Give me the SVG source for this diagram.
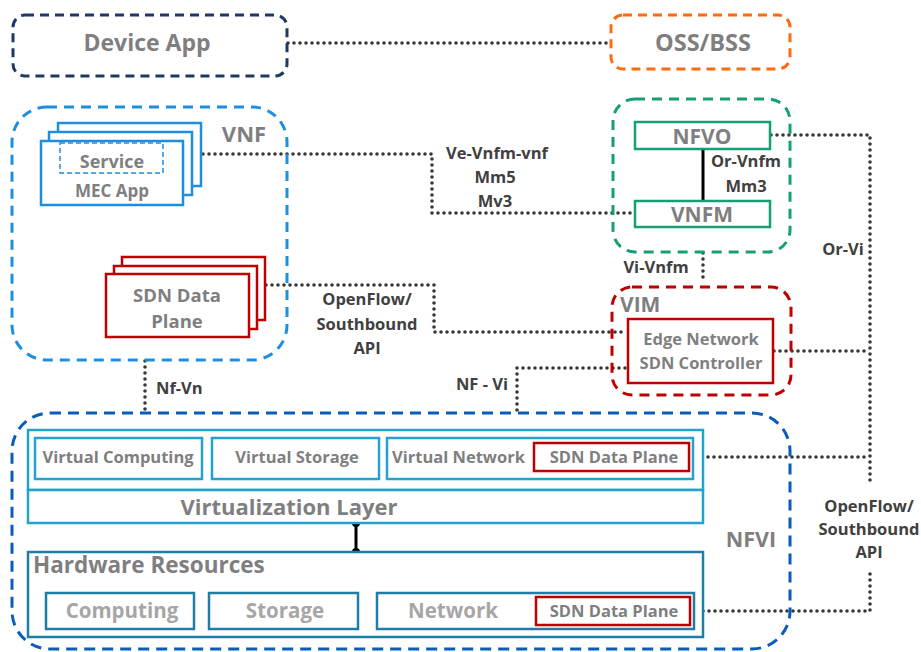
<svg xmlns="http://www.w3.org/2000/svg" width="921" height="652" viewBox="0 0 921 652">
<style>
text{font-family:"Open Sans","Liberation Sans",sans-serif;font-weight:bold}
.t{fill:#7f7f7f}
.lt{fill:#a6a6a6}
.lbl{fill:#404040;font-size:16.5px}
.m{text-anchor:middle}
.dot{fill:none;stroke:#383838;stroke-width:3.6;stroke-dasharray:0 6;stroke-linecap:round}
.mec{fill:#fff;stroke:#1e8fe0;stroke-width:2.5}
.sdn{fill:#fff;stroke:#c00000;stroke-width:2.5}
.virt{fill:#fff;stroke:#23a3cc;stroke-width:2.5}
.hw{fill:#fff;stroke:#1f7ea6;stroke-width:2.5}
.grn{fill:#fff;stroke:#14a077;stroke-width:2.5}
</style>
<rect width="921" height="652" fill="#fff"/>

<g id="connectors">
  <path class="dot" d="M288 43 H610"/>
  <path class="dot" d="M203 154 H432 V213 H634"/>
  <path class="dot" d="M266 285 H434 V332 H627"/>
  <path class="dot" d="M517 410 V368 H627"/>
  <path class="dot" d="M145 361 V411"/>
  <path class="dot" d="M703 253 V283"/>
  <path class="dot" d="M771 135 H870 V485"/>
  <path class="dot" d="M774 351 H870"/>
  <path class="dot" d="M690 457 H870"/>
  <path class="dot" d="M691 611 H870 V573"/>
  <line x1="703" y1="150" x2="703" y2="200" stroke="#000" stroke-width="3"/>
  <line x1="356" y1="523" x2="356" y2="552" stroke="#000" stroke-width="3"/>
  <circle cx="356" cy="523" r="4" fill="#000"/>
  <circle cx="356" cy="552" r="4" fill="#000"/>
</g>

<g id="device-app">
  <rect x="13" y="15" width="274" height="61" rx="12" fill="none" stroke="#1f3864" stroke-width="3" stroke-dasharray="9 6"/>
  <text class="t m" x="147" y="51" font-size="23">Device App</text>
</g>

<g id="oss-bss">
  <rect x="611" y="15" width="179" height="54" rx="12" fill="none" stroke="#ff6a13" stroke-width="3" stroke-dasharray="9 6"/>
  <text class="t m" x="703" y="51" font-size="23.5">OSS/BSS</text>
</g>

<g id="vnf">
  <rect x="12" y="107" width="275" height="253" rx="35" fill="none" stroke="#1e8fe0" stroke-width="3" stroke-dasharray="10 7"/>
  <text class="t m" x="244" y="142" font-size="22">VNF</text>
</g>

<g id="mec-app">
  <rect class="mec" x="58" y="123" width="143" height="63"/>
  <rect class="mec" x="49" y="132" width="143" height="63"/>
  <rect class="mec" x="41" y="141" width="142" height="64"/>
  <rect x="60" y="143" width="103" height="30" fill="none" stroke="#1e8fe0" stroke-width="1.5" stroke-dasharray="5 3"/>
  <text class="t m" x="112" y="168" font-size="18">Service</text>
  <text class="t m" x="112" y="197" font-size="17">MEC App</text>
</g>

<g id="sdn-data-plane-vnf">
  <rect class="sdn" x="122" y="257" width="143" height="63"/>
  <rect class="sdn" x="114" y="266" width="143" height="63"/>
  <rect class="sdn" x="106" y="274" width="143" height="63"/>
  <text class="t m" x="177" y="302" font-size="18.5">SDN Data</text>
  <text class="t m" x="177" y="328" font-size="18.5">Plane</text>
</g>

<g id="mano">
  <rect x="613" y="99" width="177" height="153" rx="22" fill="none" stroke="#14a077" stroke-width="3" stroke-dasharray="10 7"/>
</g>
<g id="nfvo">
  <rect class="grn" x="635" y="122" width="135" height="27"/>
  <text class="t m" x="702" y="144" font-size="21">NFVO</text>
</g>
<g id="vnfm">
  <rect class="grn" x="635" y="201" width="135" height="26"/>
  <text class="t m" x="702" y="222" font-size="21">VNFM</text>
</g>

<g id="vim">
  <rect x="612" y="287" width="179" height="108" rx="20" fill="none" stroke="#c00000" stroke-width="3" stroke-dasharray="10 7"/>
  <text class="t" x="620" y="312" font-size="21">VIM</text>
</g>
<g id="sdn-controller">
  <rect class="sdn" x="628" y="319" width="145" height="64"/>
  <text class="t m" x="701" y="345" font-size="16.5">Edge Network</text>
  <text class="t m" x="701" y="369" font-size="16.5">SDN Controller</text>
</g>

<g id="nfvi">
  <rect x="12" y="413" width="778" height="236" rx="38" fill="none" stroke="#0a5cb8" stroke-width="3" stroke-dasharray="11 7"/>
  <text class="t m" x="751" y="547" font-size="21.5">NFVI</text>
</g>

<g id="virtual-resources">
  <rect class="virt" x="28" y="430" width="675" height="60"/>
  <rect class="virt" x="35" y="438" width="167" height="41"/>
  <text class="t m" x="118" y="463" font-size="16.5">Virtual Computing</text>
  <rect class="virt" x="212" y="438" width="167" height="41"/>
  <text class="t m" x="297" y="463" font-size="16.5">Virtual Storage</text>
  <rect class="virt" x="387" y="438" width="306" height="41"/>
  <text class="t" x="392" y="463" font-size="16.5">Virtual Network</text>
  <rect class="sdn" x="534" y="443" width="155" height="28"/>
  <text class="t m" x="614" y="463" font-size="16.5">SDN Data Plane</text>
</g>

<g id="virtualization-layer">
  <rect class="virt" x="28" y="490" width="675" height="33"/>
  <text class="t m" x="289" y="515" font-size="22">Virtualization Layer</text>
</g>

<g id="hardware-resources">
  <rect class="hw" x="28" y="552" width="675" height="85"/>
  <text class="t" x="33" y="573" font-size="22.5">Hardware Resources</text>
  <rect class="hw" x="46" y="593" width="148" height="36"/>
  <text class="lt m" x="122" y="618" font-size="20.5">Computing</text>
  <rect class="hw" x="209" y="593" width="149" height="36"/>
  <text class="lt m" x="285" y="618" font-size="20.5">Storage</text>
  <rect class="hw" x="377" y="593" width="317" height="36"/>
  <text class="lt" x="408" y="618" font-size="20.5">Network</text>
  <rect class="sdn" x="536" y="597" width="154" height="28"/>
  <text class="t m" x="614" y="617" font-size="16.5">SDN Data Plane</text>
</g>

<g id="labels">
  <text class="lbl m" x="497" y="159">Ve-Vnfm-vnf</text>
  <text class="lbl m" x="495" y="183">Mm5</text>
  <text class="lbl m" x="495" y="207">Mv3</text>
  <text class="lbl m" x="367" y="305">OpenFlow/</text>
  <text class="lbl m" x="367" y="330">Southbound</text>
  <text class="lbl m" x="367" y="354">API</text>
  <text class="lbl m" x="482" y="390">NF - Vi</text>
  <text class="lbl" x="156" y="394">Nf-Vn</text>
  <text class="lbl m" x="746" y="167">Or-Vnfm</text>
  <text class="lbl m" x="746" y="192">Mm3</text>
  <text class="lbl m" x="656" y="273">Vi-Vnfm</text>
  <text class="lbl m" x="843" y="255">Or-Vi</text>
  <text class="lbl m" x="869" y="512">OpenFlow/</text>
  <text class="lbl m" x="869" y="535">Southbound</text>
  <text class="lbl m" x="869" y="558">API</text>
</g>
</svg>
